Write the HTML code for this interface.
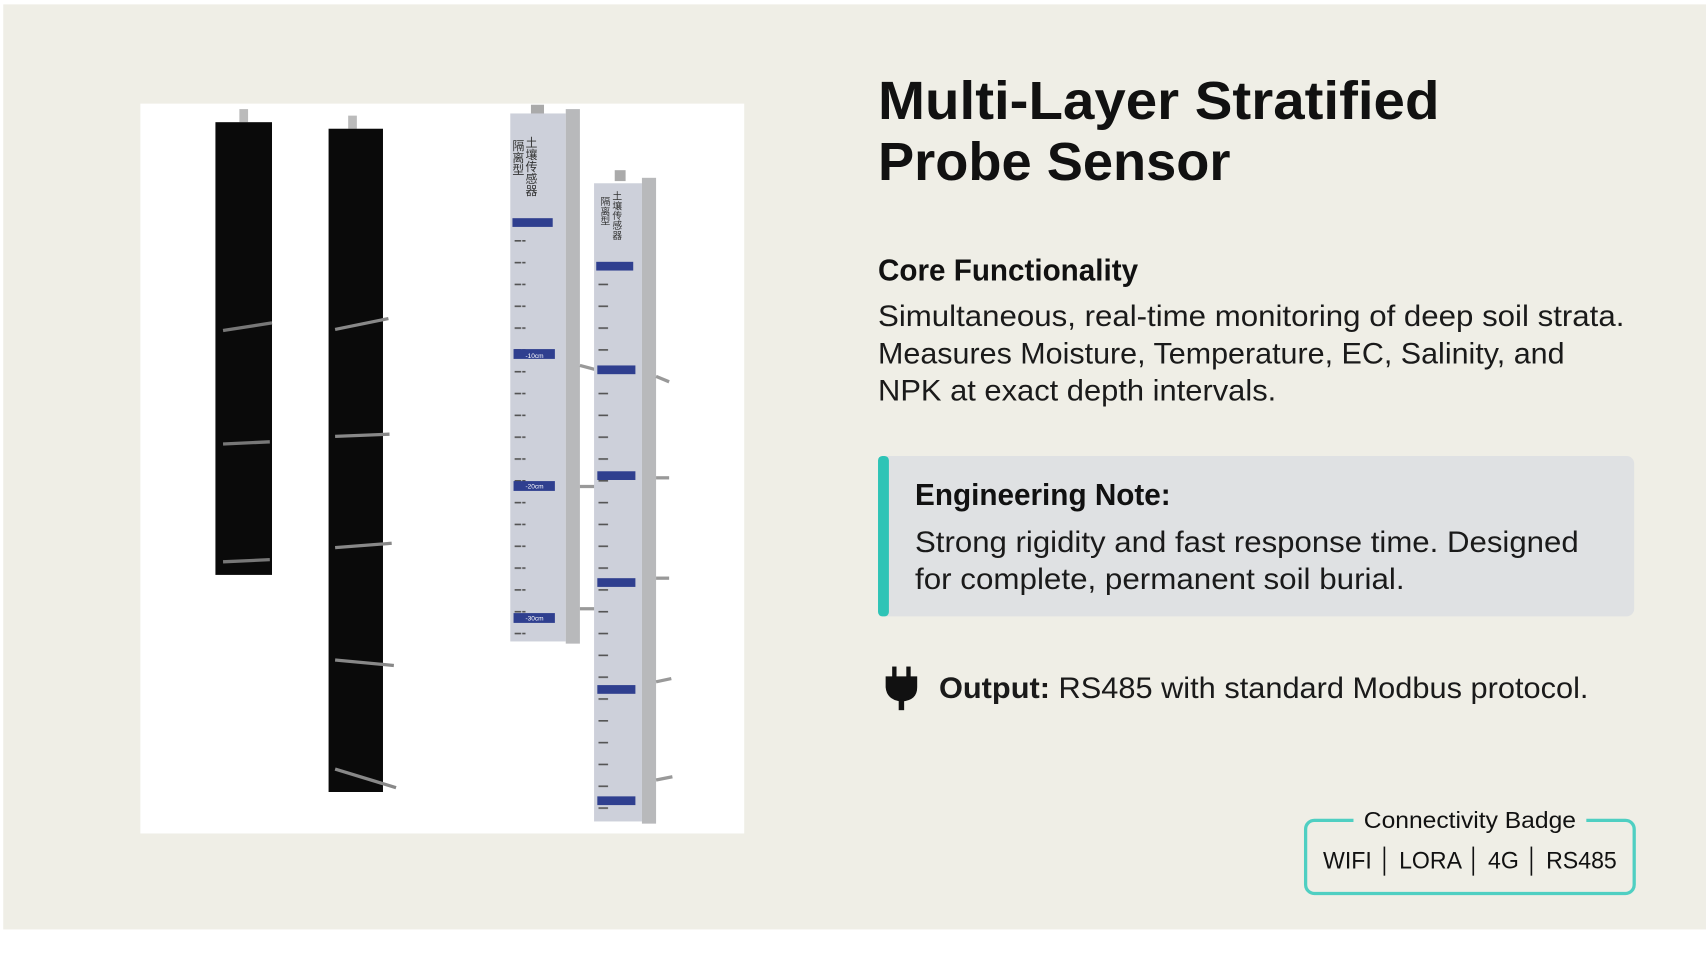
<!DOCTYPE html>
<html><head><meta charset="utf-8"><style>
html,body{margin:0;padding:0;background:#fff;}
svg{display:block;}
text{font-family:"Liberation Sans","Noto Sans CJK SC",sans-serif;}
</style></head><body>
<svg width="1706" height="960" viewBox="0 0 1568 880" preserveAspectRatio="none" xmlns="http://www.w3.org/2000/svg">
<defs>
<pattern id="t1" x="0" y="0" width="10" height="20" patternUnits="userSpaceOnUse"><rect x="0" y="0" width="9" height="1.5" fill="#555"/></pattern>
</defs>
<rect x="0" y="0" width="1568" height="880" fill="#ffffff"/>
<rect x="3" y="4" width="1565" height="848" fill="#efeee6"/>
<rect x="129" y="95" width="555" height="669" fill="#ffffff"/>
<rect x="220" y="100" width="8" height="12" fill="#bbb"/>
<rect x="198" y="112" width="52" height="415" fill="#0a0a0a"/>
<g stroke="#777" stroke-width="3">
<line x1="205" y1="303" x2="250" y2="296"/><line x1="205" y1="407" x2="248" y2="405"/><line x1="205" y1="515" x2="248" y2="513"/>
</g>
<rect x="320" y="106" width="8" height="12" fill="#bbb"/>
<rect x="302" y="118" width="50" height="608" fill="#0a0a0a"/>
<g stroke="#888" stroke-width="3">
<line x1="308" y1="302" x2="357" y2="292"/><line x1="308" y1="400" x2="358" y2="398"/><line x1="308" y1="502" x2="360" y2="498"/><line x1="308" y1="605" x2="362" y2="610"/><line x1="308" y1="705" x2="364" y2="722"/>
</g>
<rect x="488" y="96" width="12" height="10" fill="#aaa"/>
<rect x="469" y="104" width="51" height="484" fill="#cdd0da"/>
<rect x="473" y="212" width="10" height="370" fill="url(#t1)"/>
<rect x="520" y="100" width="13" height="490" fill="#b8b9bb"/>
<g fill="#2f3f8f">
<rect x="471" y="200" width="37" height="8"/><rect x="472" y="320" width="38" height="9"/><rect x="472" y="441" width="38" height="9"/><rect x="472" y="562" width="38" height="9"/>
</g>
<g fill="#fff" font-size="6"><text x="483" y="328">-10cm</text><text x="483" y="448">-20cm</text><text x="483" y="569">-30cm</text></g>
<g fill="#333" font-size="11"><text x="488" y="125" writing-mode="tb">土壤传感器</text><text x="476" y="128" writing-mode="tb">隔离型</text></g>
<g stroke="#999" stroke-width="3"><line x1="533" y1="335" x2="552" y2="340"/><line x1="533" y1="446" x2="552" y2="446"/><line x1="533" y1="558" x2="552" y2="558"/></g>
<rect x="565" y="156" width="10" height="10" fill="#aaa"/>
<rect x="546" y="168" width="44" height="585" fill="#cdd0da"/>
<rect x="550" y="252" width="9" height="495" fill="url(#t1)"/>
<rect x="590" y="163" width="13" height="592" fill="#b8b9bb"/>
<g fill="#2f3f8f">
<rect x="548" y="240" width="34" height="8"/><rect x="549" y="335" width="35" height="8"/><rect x="549" y="432" width="35" height="8"/><rect x="549" y="530" width="35" height="8"/><rect x="549" y="628" width="35" height="8"/><rect x="549" y="730" width="35" height="8"/>
</g>
<g fill="#333" font-size="9"><text x="566" y="175" writing-mode="tb">土壤传感器</text><text x="555" y="180" writing-mode="tb">隔离型</text></g>
<g stroke="#999" stroke-width="3"><line x1="603" y1="345" x2="615" y2="350"/><line x1="603" y1="438" x2="615" y2="438"/><line x1="603" y1="530" x2="615" y2="530"/><line x1="603" y1="625" x2="617" y2="622"/><line x1="603" y1="715" x2="618" y2="712"/></g>
<text x="807" y="109" font-size="49" font-weight="bold" fill="#111" textLength="516" lengthAdjust="spacingAndGlyphs">Multi-Layer Stratified</text>
<text x="807" y="165" font-size="49" font-weight="bold" fill="#111" textLength="324" lengthAdjust="spacingAndGlyphs">Probe Sensor</text>
<text x="807" y="257" font-size="28" font-weight="bold" fill="#111" textLength="239" lengthAdjust="spacingAndGlyphs">Core Functionality</text>
<g font-size="27" fill="#1a1a1a">
<text x="807" y="299" textLength="686" lengthAdjust="spacingAndGlyphs">Simultaneous, real-time monitoring of deep soil strata.</text>
<text x="807" y="333" textLength="631" lengthAdjust="spacingAndGlyphs">Measures Moisture, Temperature, EC, Salinity, and</text>
<text x="807" y="367" textLength="366" lengthAdjust="spacingAndGlyphs">NPK at exact depth intervals.</text>
</g>
<rect x="807" y="418" width="695" height="147" rx="7" fill="#dfe1e3"/>
<rect x="807" y="418" width="10" height="147" rx="4" fill="#2ec4b6"/>
<text x="841" y="463" font-size="28" font-weight="bold" fill="#111" textLength="235" lengthAdjust="spacingAndGlyphs">Engineering Note:</text>
<g font-size="27" fill="#1a1a1a">
<text x="841" y="506" textLength="610" lengthAdjust="spacingAndGlyphs">Strong rigidity and fast response time. Designed</text>
<text x="841" y="540" textLength="450" lengthAdjust="spacingAndGlyphs">for complete, permanent soil burial.</text>
</g>
<g fill="#111">
<rect x="820" y="611" width="4" height="10"/><rect x="833" y="611" width="4" height="10"/>
<path d="M814 620 H843 V630 Q843 642 829 643 Q815 642 814 630 Z"/>
<rect x="826" y="641" width="5" height="10"/>
</g>
<text x="863" y="640" font-size="27" fill="#1a1a1a" textLength="597" lengthAdjust="spacingAndGlyphs"><tspan font-weight="bold">Output:</tspan> RS485 with standard Modbus protocol.</text>
<rect x="1200" y="752" width="302" height="67" rx="8" fill="none" stroke="#4fcfc2" stroke-width="3"/>
<rect x="1244" y="740" width="214" height="22" fill="#efeee6"/>
<text x="1351" y="759" font-size="21" fill="#111" text-anchor="middle" textLength="195" lengthAdjust="spacingAndGlyphs">Connectivity Badge</text>
<text x="1351" y="796" font-size="22" fill="#111" text-anchor="middle" textLength="270" lengthAdjust="spacingAndGlyphs">WIFI │ LORA │ 4G │ RS485</text>
</svg>
</body></html>
